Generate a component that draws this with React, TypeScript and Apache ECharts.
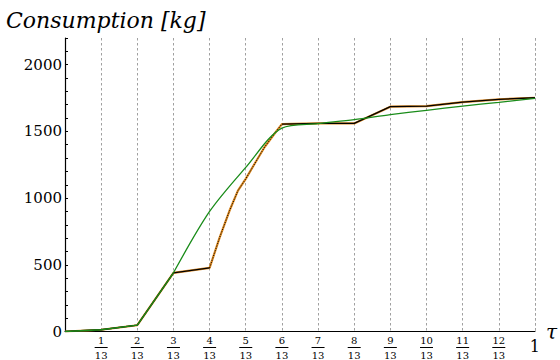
import React, { useEffect, useRef } from "react";
import * as echarts from "echarts";

// x positions are multiples of 1/13 (tau)
const stepCount = 13;
const stepIndex = [0, 1, 2, 3, 4, 5, 6, 7, 8, 9, 10, 11, 12, 13];

// actual consumption (black polyline) at k/13
const actualBeforeK = [0, 1, 2, 3, 4];
const actualBefore = [0, 13, 47, 440, 477];
const actualAfterK = [6, 7, 8, 9, 10, 11, 12, 13];
const actualAfter = [1555, 1560, 1560, 1685, 1690, 1720, 1740, 1752];

// dotted (orange) curved part between 4/13 and 6/13
const curveTau = [0.3077, 0.329, 0.35, 0.368, 0.3846, 0.4035, 0.4248, 0.4461, 0.4615];
const curveVal = [477, 704, 905, 1056, 1144, 1257, 1383, 1484, 1555];

// fitted (green) curve
const greenEarlyK = [0, 1, 2, 3];
const greenEarly = [0, 13, 47, 440];
const greenLateK = [3, 4, 5, 6, 7, 8, 9, 10, 11, 12, 13];
const greenLate = [440, 900, 1230, 1525, 1558, 1588, 1625, 1658, 1690, 1718, 1748];

const yLabels = [0, 500, 1000, 1500, 2000];

const FONT = "DejaVu Serif";

function pts(ks: number[], vals: number[]) {
  return ks.map((k, i) => [k / stepCount, vals[i]]);
}

export default function App() {
  const ref = useRef<HTMLDivElement>(null);
  useEffect(() => {
    if (!ref.current) return;
    const chart = echarts.init(ref.current, null, { renderer: "svg" });
    const curve = curveTau.map((t, i) => [t, curveVal[i]]);
    const fullActual = [...pts(actualBeforeK, actualBefore), ...curve, ...pts(actualAfterK, actualAfter)];
    chart.setOption({
      animation: false,
      backgroundColor: "#fff",
      title: {
        text: "Consumption [kg]",
        left: 6,
        top: 9,
        padding: 0,
        textStyle: {
          fontFamily: FONT,
          fontWeight: "normal",
          fontStyle: "italic",
          fontSize: 22,
          color: "#000",
        },
      },
      grid: { left: 65, right: 24, top: 38, bottom: 28 },
      xAxis: {
        type: "value",
        min: 0,
        max: 1,
        interval: 1 / stepCount,
        name: "τ",
        nameLocation: "end",
        nameGap: 10,
        nameTextStyle: { fontFamily: FONT, fontStyle: "italic", fontSize: 20, color: "#000", verticalAlign: "middle", padding: [0, 0, 6, 0] },
        axisLine: { lineStyle: { color: "#000", width: 1.2 } },
        axisTick: { show: false },
        splitLine: { show: true, lineStyle: { color: "#a0a0a0", type: [2.5, 2.5], width: 1 } },
        axisLabel: {
          margin: 4,
          fontFamily: FONT,
          formatter: (v: number) => {
            const k = Math.round(v * stepCount);
            if (k === 0) return "";
            if (k === stepCount) return "{one|1}";
            return `{n|${stepIndex[k]}}\n{b|}\n{d|${stepCount}}`;
          },
          rich: {
            n: { fontFamily: FONT, fontSize: 10, lineHeight: 10, color: "#000", align: "center" },
            b: { width: 13, height: 1, lineHeight: 4, backgroundColor: "#000", align: "center" },
            d: { fontFamily: FONT, fontSize: 10, lineHeight: 11, color: "#000", align: "center" },
            one: { fontFamily: FONT, fontSize: 16, lineHeight: 22, color: "#000", align: "center" },
          },
        },
      },
      yAxis: {
        type: "value",
        min: 0,
        max: 2200,
        interval: 100,
        axisLine: { show: true, lineStyle: { color: "#000", width: 1.2 } },
        axisTick: { show: true, inside: true, length: 3, lineStyle: { color: "#000" } },
        splitLine: { show: false },
        axisLabel: {
          margin: 3,
          fontFamily: FONT,
          fontSize: 15,
          color: "#000",
          formatter: (v: number) => (yLabels.includes(v) ? String(v) : ""),
        },
      },
      series: [
        { type: "line", data: fullActual, symbol: "none", lineStyle: { color: "#d9861f", width: 2.2 }, z: 1 },
        { type: "line", data: pts(actualBeforeK, actualBefore), symbol: "none", lineStyle: { color: "#000", width: 1.3 }, z: 2 },
        { type: "line", data: pts(actualAfterK, actualAfter), symbol: "none", lineStyle: { color: "#000", width: 1.3 }, z: 2 },
        { type: "line", data: curve, symbol: "none", lineStyle: { color: "#000", width: 1, type: [1, 1.5] }, z: 2 },
        { type: "line", data: pts(greenEarlyK, greenEarly), symbol: "none", lineStyle: { color: "#1a8c1a", width: 1.3 }, z: 3 },
        { type: "line", data: pts(greenLateK, greenLate), symbol: "none", smooth: 0.3, lineStyle: { color: "#1a8c1a", width: 1.3 }, z: 3 },
      ],
    });
    return () => chart.dispose();
  }, []);
  return <div ref={ref} style={{ width: 560, height: 360, position: "absolute", left: 0, top: 0 }} />;
}
